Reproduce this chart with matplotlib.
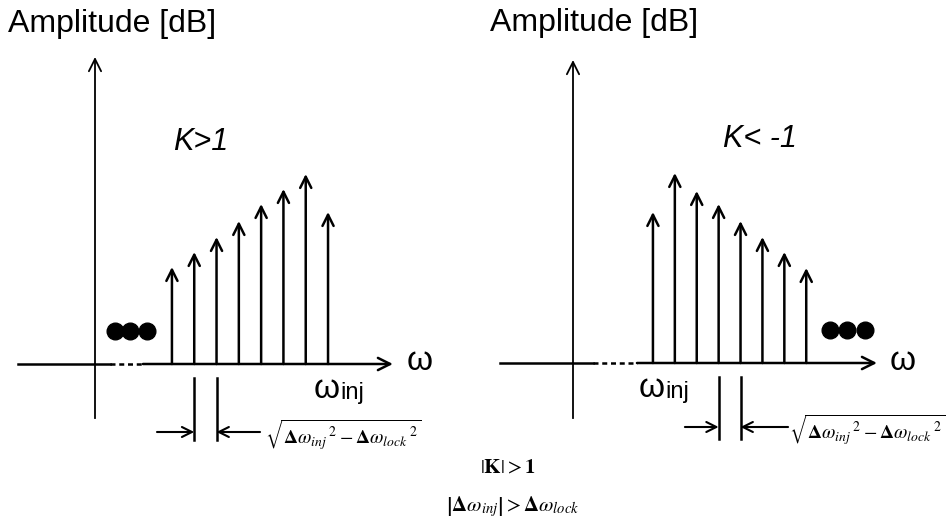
import numpy as np
import matplotlib.pyplot as plt

plt.rcParams['font.family'] = ['Liberation Sans', 'DejaVu Sans']
plt.rcParams['mathtext.fontset'] = 'stix'

W, H = 946, 529

# spectral line amplitudes (arbitrary units), ordered by frequency
n_left = np.arange(-7, 1)          # harmonics below w_inj (K > 1)
amp_left = [9.7, 11.2, 12.7, 14.3, 16.0, 17.5, 19.0, 15.2]
n_right = np.arange(0, 8)          # harmonics above w_inj (K < -1)
amp_right = [15.1, 19.0, 17.2, 15.9, 14.2, 12.6, 11.1, 9.5]
winj_left = 10.45
winj_right = 3.65
k_labels = ['K>1', 'K< -1']
sep_label = (r'$\sqrt{\mathbf{\Delta}\omega_{inj}\,{}^{2}'
             r'-\mathbf{\Delta}\omega_{lock}\,{}^{2}}$')

fig = plt.figure(figsize=(W / 100, H / 100), dpi=100)


def arrow(ax, xy, xytext, lw=1.8, ms=20):
    ax.annotate('', xy=xy, xytext=xytext,
                arrowprops=dict(arrowstyle='->', lw=lw, color='black',
                                mutation_scale=ms, shrinkA=0, shrinkB=0))


def panel(ax, freqs, amps, winj, klabel, kxy, dots_x, x_ax, dash, sep_idx,
          sep_arrows, sep_text_x):
    ax.set_xlim(*x_ax[0])
    ax.set_ylim(*x_ax[1])
    ax.axis('off')
    # frequency axis (solid - dashed - solid) with arrow
    ax.plot([x_ax[2], dash[0]], [0, 0], color='black', lw=1.8)
    ax.plot([dash[0], dash[1]], [0, 0], color='black', lw=1.8,
            linestyle=(0, (2, 1.5)))
    arrow(ax, (x_ax[3], 0), (dash[1], 0), ms=22)
    # amplitude axis
    ax.plot([0, 0], [x_ax[4], 0], color='black', lw=1.3)
    arrow(ax, (0, x_ax[5]), (0, 0), lw=1.3, ms=22)
    # spectral lines
    for f, a in zip(freqs, amps):
        arrow(ax, (f, a), (f, 0))
    ax.plot(dots_x, [3.35] * 3, 'o', color='black', ms=12)
    ax.text(x_ax[3] + 0.6, 0.2, 'ω', fontsize=24, va='center', ha='left')
    ax.text(winj - 0.65, -1.0, 'ω', fontsize=24, va='top', ha='left')
    ax.text(winj + 0.55, -1.8, 'inj', fontsize=17, va='top', ha='left')
    ax.text(kxy[0], kxy[1], klabel, fontsize=22, style='italic',
            ha='center', va='center')
    ax.text(x_ax[2] - 0.45, 35.5, 'Amplitude [dB]', fontsize=23,
            ha='left', va='top')
    # spacing marker
    f1, f2 = freqs[sep_idx], freqs[sep_idx + 1]
    for f in (f1, f2):
        ax.plot([f, f], [-1.4, -7.6], color='black', lw=1.8)
    ay = sep_arrows[2]
    arrow(ax, (f1, ay), (sep_arrows[0], ay), lw=1.5, ms=18)
    arrow(ax, (f2, ay), (sep_arrows[1], ay), lw=1.5, ms=18)
    ax.text(sep_text_x, ay - 0.3, sep_label, fontsize=14, ha='left',
            va='center')


ax1 = fig.add_axes([0, 0, 470 / W, 1])
panel(ax1, winj_left + n_left, amp_left, winj_left, k_labels[0], (4.75, 22.2),
      [0.90, 1.57, 2.33],
      ((-95 / 22.3, 375 / 22.3), (-16.5, 36.4), -3.45, 13.36, -5.4, 30.7),
      (0.67, 2.15), 1, (2.78, 7.40, -6.8), 7.62)

ax2 = fig.add_axes([470 / W, 0, 476 / W, 1])
panel(ax2, winj_right + n_right, amp_right, winj_right, k_labels[1],
      (8.54, 22.4), [11.74, 12.51, 13.33],
      ((-103 / 21.9, 373 / 21.9), (-16.6, 36.3), -3.33, 13.88, -5.5, 30.3),
      (0.91, 2.92), 3, (5.11, 9.82, -6.4), 9.85)

fig.text(508 / W, 1 - 468 / H, r'$\left|\mathbf{K}\right|>\mathbf{1}$',
         fontsize=15, ha='center', va='center')
fig.text(513 / W, 1 - 507 / H,
         r'$\left|\mathbf{\Delta}\omega_{inj}\right|>\mathbf{\Delta}\omega_{lock}$',
         fontsize=15, ha='center', va='center')

fig.savefig('out.png', dpi=100)
